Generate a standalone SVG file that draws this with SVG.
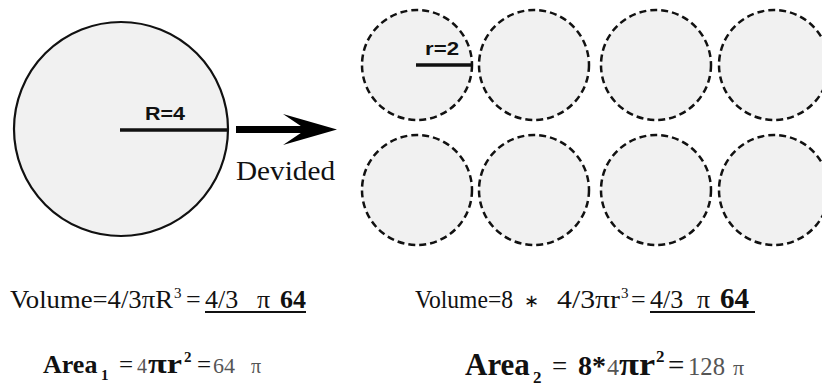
<svg xmlns="http://www.w3.org/2000/svg" width="822" height="388" viewBox="0 0 822 388">
<style>
.big{fill:#f1f1f1;stroke:#111;stroke-width:2.2}
.small{fill:#f1f1f1;stroke:#111;stroke-width:2.5;stroke-dasharray:7 4}
.lbl{font-family:"Liberation Sans",Arial,sans-serif;font-weight:bold;fill:#111}
.ser{font-family:"Liberation Serif","Times New Roman",serif;fill:#111}
.b{font-weight:bold}
.g{fill:#555}
.ul{stroke:#111;stroke-width:2}
</style>
<rect width="822" height="388" fill="#fff"/>
<g id="big-sphere">
<circle class="big" cx="121" cy="129" r="107"/>
<line x1="120" y1="130" x2="228" y2="130" stroke="#111" stroke-width="3.5"/>
<text class="lbl" x="145" y="120" font-size="19" textLength="40" lengthAdjust="spacingAndGlyphs">R=4</text>
</g>
<g id="connectors">
<line x1="236" y1="129.5" x2="318" y2="129.5" stroke="#000" stroke-width="7"/>
<polygon points="283,114 337,129.5 283,145 306,129.5" fill="#000"/>
</g>
<text class="ser" x="236" y="180" font-size="28" textLength="99" lengthAdjust="spacingAndGlyphs">Devided</text>
<g id="small-spheres">
<circle class="small" cx="417" cy="65" r="55"/>
<circle class="small" cx="534" cy="65" r="55"/>
<circle class="small" cx="656" cy="65" r="55"/>
<circle class="small" cx="774" cy="65" r="55"/>
<circle class="small" cx="417" cy="190" r="55"/>
<circle class="small" cx="534" cy="190" r="55"/>
<circle class="small" cx="656" cy="190" r="55"/>
<circle class="small" cx="774" cy="190" r="55"/>
<line x1="416" y1="65" x2="471" y2="65" stroke="#111" stroke-width="3.5"/>
<text class="lbl" x="425" y="55" font-size="19" textLength="34" lengthAdjust="spacingAndGlyphs">r=2</text>
</g>
<g id="volume-1" class="ser" font-size="26">
<text class="ser" x="10" y="308" textLength="163" lengthAdjust="spacingAndGlyphs">Volume=4/3πR</text>
<text class="ser" x="174" y="298" font-size="15">3</text>
<text class="ser" x="186" y="308">=</text>
<text class="ser" x="205" y="308">4/3</text>
<text class="ser" x="257" y="308">π</text>
<text class="ser b" x="280" y="308">64</text>
<line class="ul" x1="205" y1="312" x2="306" y2="312"/>
</g>
<g id="volume-2" class="ser" font-size="26">
<text class="ser" x="415" y="308" textLength="98" lengthAdjust="spacingAndGlyphs">Volume=8</text>
<text class="ser" x="524" y="307" font-size="18">∗</text>
<text class="ser" x="557" y="308" textLength="63" lengthAdjust="spacingAndGlyphs">4/3πr</text>
<text class="ser" x="621" y="298" font-size="15">3</text>
<text class="ser" x="631" y="308">=</text>
<text class="ser" x="650" y="308">4/3</text>
<text class="ser" x="697" y="308">π</text>
<text class="ser b" x="720" y="308" font-size="29">64</text>
<line class="ul" x1="650" y1="312" x2="755" y2="312"/>
</g>
<g id="area-1" class="ser" font-size="26">
<text class="ser b" x="43" y="373">Area</text>
<text class="ser b" x="101" y="380" font-size="15">1</text>
<text class="ser" x="119" y="373" font-size="25">=</text>
<text class="ser g" x="137" y="373" font-size="20">4</text>
<text class="ser b" x="148" y="373" font-size="28" textLength="34" lengthAdjust="spacingAndGlyphs">πr</text>
<text class="ser b" x="184" y="362" font-size="15">2</text>
<text class="ser" x="197" y="373" font-size="25">=</text>
<text class="ser g" x="213" y="373" font-size="22">64</text>
<text class="ser g" x="251" y="373" font-size="20">π</text>
</g>
<g id="area-2" class="ser" font-size="31">
<text class="ser b" x="465" y="375">Area</text>
<text class="ser b" x="533" y="383" font-size="17">2</text>
<text class="ser" x="552" y="375" font-size="27">=</text>
<text class="ser b" x="578" y="375" font-size="28">8*</text>
<text class="ser g" x="607" y="375" font-size="24">4</text>
<text class="ser b" x="619" y="375" font-size="32" textLength="36" lengthAdjust="spacingAndGlyphs">πr</text>
<text class="ser b" x="656" y="362" font-size="17">2</text>
<text class="ser" x="668" y="375" font-size="29">=</text>
<text class="ser g" x="688" y="375" font-size="26" textLength="37" lengthAdjust="spacingAndGlyphs">128</text>
<text class="ser g" x="733" y="375" font-size="22">π</text>
</g>
</svg>
